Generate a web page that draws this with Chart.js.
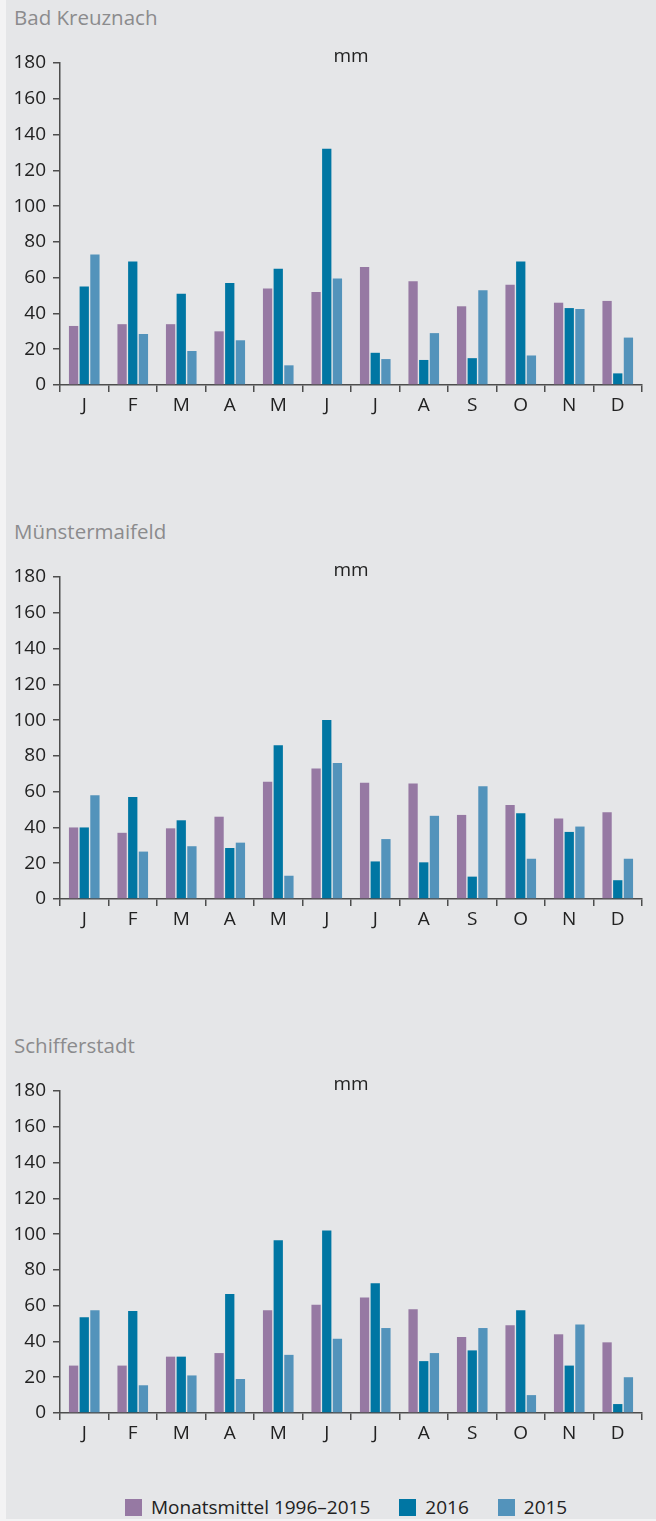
<!DOCTYPE html>
<html>
<head>
  <meta charset="utf-8">
  <title>Niederschlag</title>
  <script src="https://cdn.jsdelivr.net/npm/chart.js"></script>
  <style>
    body { margin: 0; background: #f3f3f4; font-family: "Open Sans", sans-serif; }
    .panel { position: absolute; left: 6px; top: 0; width: 650px; height: 1519px; background: #e5e6e8; }
    .station { position: absolute; left: 14px; font-size: 20.5px; color: #8b8b8d; }
    .box { position: absolute; left: 0; width: 656px; height: 380px; }
    .legend { position: absolute; top: 1494px; left: 125px; font-size: 19px; color: #222; display: flex; }
    .legend span.sw { display: inline-block; width: 17px; height: 17px; margin-right: 9px; vertical-align: -2px; }
    .legend div { margin-right: 29px; }
  </style>
</head>
<body>
<div class="panel"></div>
<div class="station" style="top:3px">Bad Kreuznach</div>
<div class="station" style="top:517px">Münstermaifeld</div>
<div class="station" style="top:1031px">Schifferstadt</div>
<div class="box" style="top:40px"><canvas id="c1"></canvas></div>
<div class="box" style="top:554px"><canvas id="c2"></canvas></div>
<div class="box" style="top:1068px"><canvas id="c3"></canvas></div>
<div class="legend" id="legend"></div>

<script>
const months = ['J', 'F', 'M', 'A', 'M', 'J', 'J', 'A', 'S', 'O', 'N', 'D'];
const seriesNames = ['Monatsmittel 1996–2015', '2016', '2015'];
const seriesColors = ['#9679a3', '#0076a3', '#5393bb'];
const yTicks = [0, 20, 40, 60, 80, 100, 120, 140, 160, 180];

// Bad Kreuznach
const badMean = [33, 34, 34, 30, 54, 52, 66, 58, 44, 56, 46, 47];
const bad2016 = [55, 69, 51, 57, 65, 132, 18, 14, 15, 69, 43, 6.5];
const bad2015 = [73, 28.5, 19, 25, 11, 59.5, 14.5, 29, 53, 16.5, 42.5, 26.5];

// Münstermaifeld
const muenMean = [40, 37, 39.5, 46, 65.5, 73, 65, 64.5, 47, 52.5, 45, 48.5];
const muen2016 = [40, 57, 44, 28.5, 86, 100, 21, 20.5, 12.5, 48, 37.5, 10.5];
const muen2015 = [58, 26.5, 29.5, 31.5, 13, 76, 33.5, 46.5, 63, 22.5, 40.5, 22.5];

// Schifferstadt
const schiMean = [26.5, 26.5, 31.5, 33.5, 57.5, 60.5, 64.5, 58, 42.5, 49, 44, 39.5];
const schi2016 = [53.5, 57, 31.5, 66.5, 96.5, 102, 72.5, 29, 35, 57.5, 26.5, 5];
const schi2015 = [57.5, 15.5, 21, 19, 32.5, 41.5, 47.5, 33.5, 47.5, 10, 49.5, 20];

const axisColor = '#4d4d4d';
const tickFont = { family: 'Open Sans', size: 19 };

// "mm" über der Mitte des Diagrammbereichs
const unitLabel = {
  id: 'unitLabel',
  afterDraw(chart) {
    const ctx = chart.ctx;
    const a = chart.chartArea;
    ctx.save();
    ctx.font = '19px "Open Sans"';
    ctx.fillStyle = '#222';
    ctx.textAlign = 'center';
    ctx.textBaseline = 'middle';
    ctx.fillText('mm', (a.left + a.right) / 2, 17);
    ctx.restore();
  }
};

function makeChart(id, mean, y2016, y2015) {
  const values = [mean, y2016, y2015];
  new Chart(document.getElementById(id), {
    type: 'bar',
    data: {
      labels: months,
      datasets: values.map((v, i) => ({
        label: seriesNames[i],
        data: v,
        backgroundColor: seriesColors[i],
        categoryPercentage: 0.66,
        barPercentage: 0.87
      }))
    },
    options: {
      responsive: true,
      maintainAspectRatio: false,
      animation: false,
      layout: { padding: { top: 23, right: 14, left: 0, bottom: 0 } },
      plugins: { legend: { display: false }, tooltip: { enabled: false } },
      scales: {
        x: {
          grid: { offset: true, drawOnChartArea: false, color: axisColor, tickLength: 7, lineWidth: 1.5 },
          border: { color: axisColor, width: 1.5 },
          ticks: { color: '#222', font: tickFont, padding: 2 },
          afterFit(s) { s.height = 35; }
        },
        y: {
          min: 0,
          max: 180,
          afterBuildTicks(s) { s.ticks = yTicks.map(v => ({ value: v })); },
          grid: { drawOnChartArea: false, color: axisColor, tickLength: 7, lineWidth: 1.5 },
          border: { color: axisColor, width: 1.5 },
          ticks: { color: '#222', font: tickFont, padding: 7 },
          afterFit(s) { s.width = 60; }
        }
      }
    },
    plugins: [unitLabel]
  });
}

makeChart('c1', badMean, bad2016, bad2015);
makeChart('c2', muenMean, muen2016, muen2015);
makeChart('c3', schiMean, schi2016, schi2015);

const legend = document.getElementById('legend');
seriesNames.forEach((name, i) => {
  const d = document.createElement('div');
  d.innerHTML = '<span class="sw" style="background:' + seriesColors[i] + '"></span>' + name;
  legend.appendChild(d);
});
</script>
</body>
</html>
